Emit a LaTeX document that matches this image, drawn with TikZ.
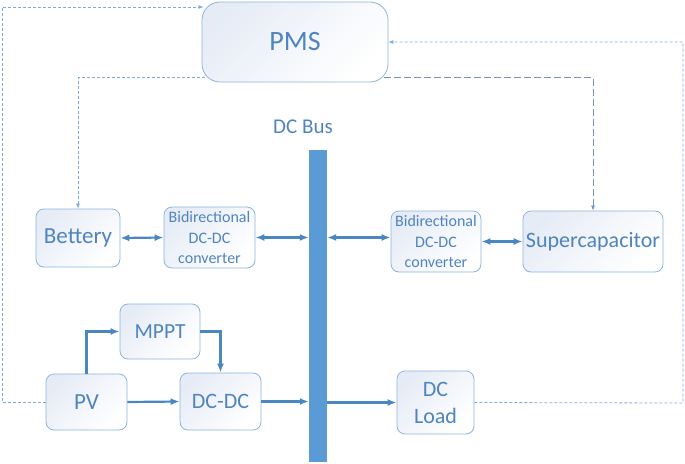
\documentclass[tikz,border=0pt]{standalone}
\usepackage{fontspec}
\setmainfont{Carlito}
\usetikzlibrary{arrows.meta}
\definecolor{edge}{HTML}{8DB4DC}
\definecolor{ink}{HTML}{4F84BE}
\definecolor{flow}{HTML}{4A86C2}
\definecolor{ctrl}{HTML}{7AAEDD}
\definecolor{ctrldark}{HTML}{6F95BD}
\definecolor{bus}{HTML}{5B9BD5}
\definecolor{tint}{HTML}{E6ECF6}
\tikzset{
  blk/.style={draw=edge, line width=0.8pt, rounded corners=8pt, top color=tint, bottom color=white,
    shading angle=45, text=ink, align=center, inner sep=0pt},
  pwr/.style={draw=flow, line width=2.2pt, -{Latex[length=9pt,width=7pt]}},
  pwrtwo/.style={pwr, {Latex[length=9pt,width=7pt]}-{Latex[length=9pt,width=7pt]}},
  sig/.style={draw=ctrl, line width=0.8pt, dash pattern=on 3pt off 2pt, -{Latex[length=5pt,width=4pt]}},
  siglong/.style={sig, draw=ctrldark, dash pattern=on 7pt off 3pt},
  fsize/.style={font=\fontsize{#1}{#1}\selectfont},
}
\begin{document}
\begin{tikzpicture}[x=1pt,y=-1pt]
  \useasboundingbox (0,0) rectangle (685,463);
  % blocks
  \node[blk, rounded corners=18pt, minimum width=186pt, minimum height=80pt, fsize=28] (pms) at (295,42) {PMS};
  \node[text=ink, fsize=21] (buslab) at (303,127) {DC Bus};
  \node[fill=bus, inner sep=0pt, minimum width=18pt, minimum height=312pt] (dcbus) at (318,306) {};
  \node[blk, minimum width=84pt, minimum height=58pt, fsize=23] (bat) at (78,238) {Bettery};
  \node[blk, minimum width=91pt, minimum height=61pt, font=\fontsize{16}{20.5}\selectfont] (convl) at (209.5,237.5) {Bidirectional\\DC-DC\\converter};
  \node[blk, minimum width=90pt, minimum height=61pt, font=\fontsize{16}{20.5}\selectfont] (convr) at (436,241.5) {Bidirectional\\DC-DC\\converter};
  \node[blk, minimum width=140pt, minimum height=61pt, fsize=22] (sup) at (593,241.5) {Supercapacitor};
  \node[blk, minimum width=80pt, minimum height=55pt, fsize=21.5] (mppt) at (160,331.5) {MPPT};
  \node[blk, minimum width=81pt, minimum height=56pt, fsize=23] (pv) at (86.5,402) {PV};
  \node[blk, minimum width=81pt, minimum height=57pt, fsize=22] (dcdc) at (220.5,401.5) {DC-DC};
  \node[blk, minimum width=77pt, minimum height=63pt, font=\fontsize{22}{27}\selectfont] (load) at (435.5,402.5) {DC\\Load};
  % power flow
  \draw[pwrtwo] (bat.east) -- (convl.west);
  \draw[pwrtwo] (convl.east) -- (convl.east -| dcbus.west);
  \draw[pwrtwo] ([yshift=4pt]convr.west -| dcbus.east) -- ([yshift=4pt]convr.west);
  \draw[pwrtwo] (convr.east) -- (sup.west);
  \draw[pwr] (pv.north) |- (mppt.west);
  \draw[pwr] (mppt.east) -| (dcdc.north);
  \draw[pwr] (pv.east) -- (dcdc.west);
  \draw[pwr] (dcdc.east) -- (dcdc.east -| dcbus.west);
  \draw[pwr] (load.west -| dcbus.east) -- (load.west);
  % control signals
  \coordinate (lc) at (2,7);
  \coordinate (rc) at (683,403);
  \draw[sig] (pv.west) -| (lc) -- ([xshift=2pt]lc -| pms.west);
  \draw[sig] ([shift={(3pt,5pt)}]pms.south west) -| (bat.north);
  \draw[siglong] ([shift={(-4pt,5pt)}]pms.south east) -| (sup.north);
  \draw[sig] (load.east) -- (rc) |- (pms.east);
\end{tikzpicture}
\end{document}
